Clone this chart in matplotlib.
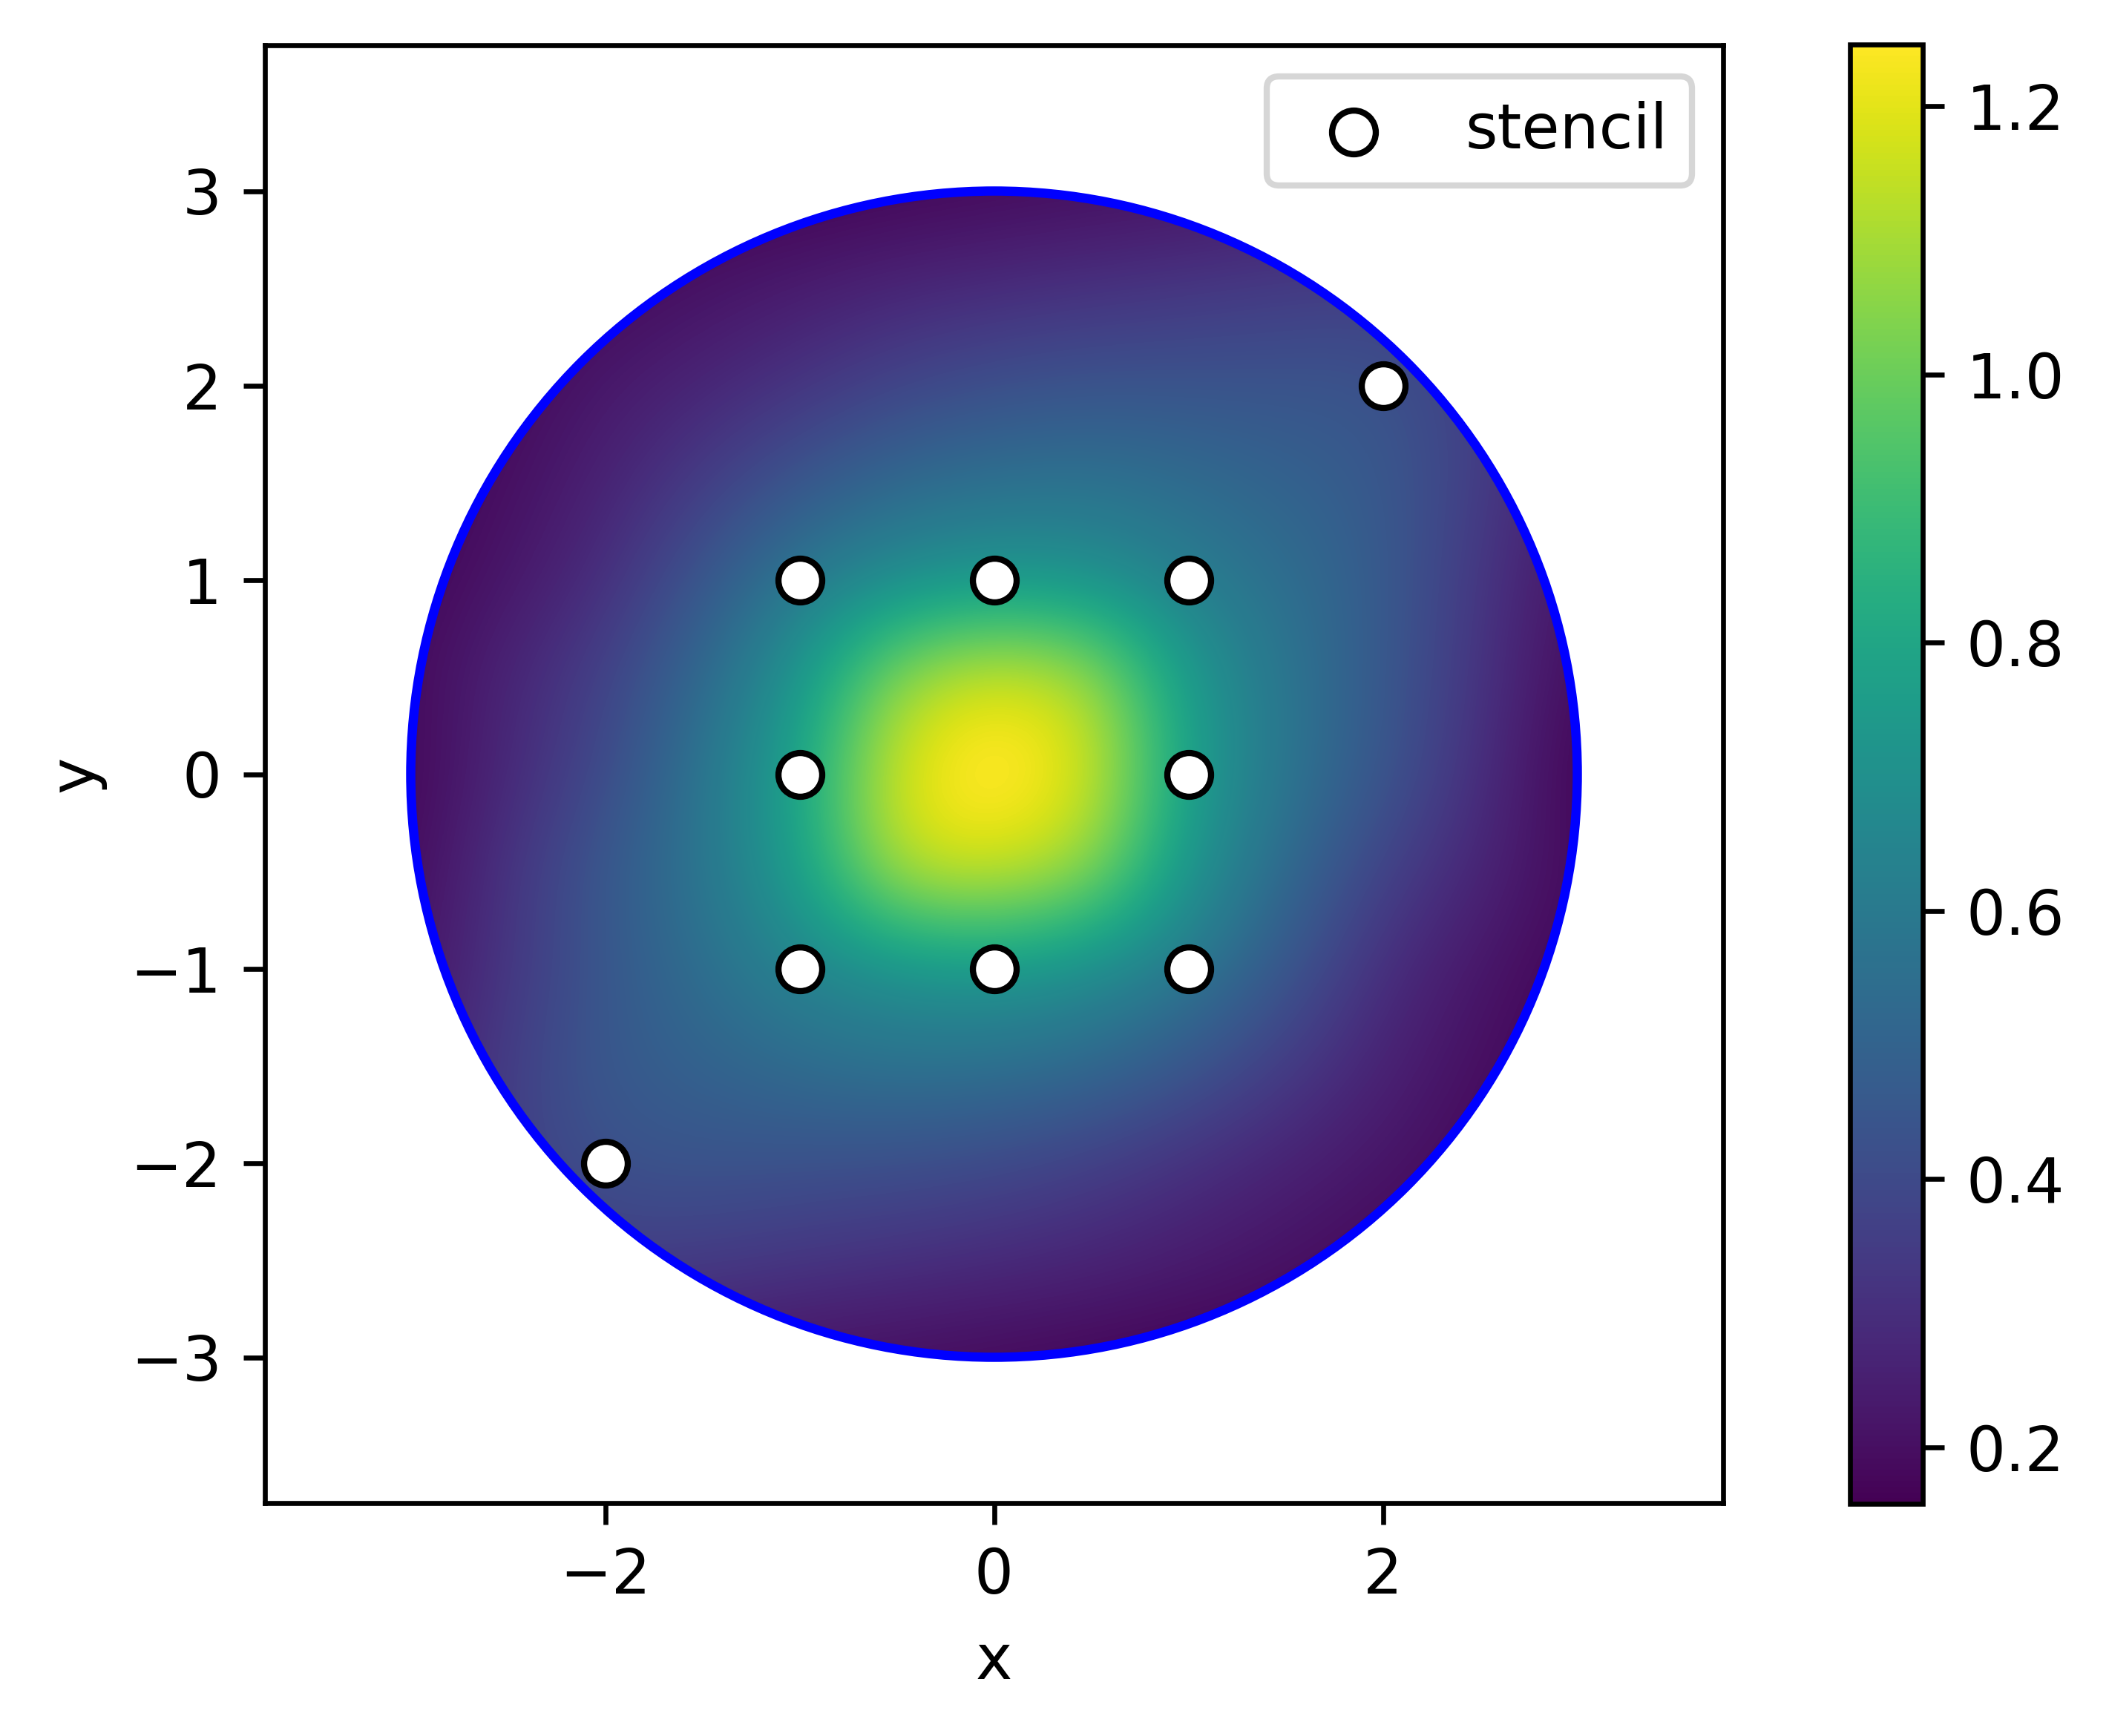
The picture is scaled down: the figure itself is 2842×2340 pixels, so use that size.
import matplotlib
matplotlib.use('Agg')
import matplotlib.pyplot as plt
import matplotlib.patches as patches
import numpy as np

plt.rcParams['font.size'] = 10

# field sampled on a 0.5 grid (rows run from y=3 down to y=-3)
grid_x = [-3.0, -2.5, -2.0, -1.5, -1.0, -0.5, 0.0, 0.5, 1.0, 1.5, 2.0, 2.5, 3.0]
grid_y = [3.0, 2.5, 2.0, 1.5, 1.0, 0.5, 0.0, -0.5, -1.0, -1.5, -2.0, -2.5, -3.0]
field_rows = [
    [0.15, 0.15, 0.15, 0.16, 0.16, 0.17, 0.18, 0.19, 0.20, 0.22, 0.24, 0.25, 0.24],
    [0.15, 0.16, 0.18, 0.21, 0.24, 0.27, 0.29, 0.31, 0.33, 0.35, 0.36, 0.33, 0.25],
    [0.15, 0.18, 0.23, 0.27, 0.32, 0.38, 0.42, 0.44, 0.44, 0.44, 0.44, 0.36, 0.25],
    [0.16, 0.20, 0.26, 0.35, 0.45, 0.53, 0.56, 0.57, 0.54, 0.50, 0.46, 0.36, 0.22],
    [0.17, 0.22, 0.30, 0.45, 0.60, 0.68, 0.72, 0.70, 0.62, 0.55, 0.47, 0.33, 0.20],
    [0.18, 0.27, 0.37, 0.53, 0.72, 1.08, 1.20, 1.12, 0.74, 0.58, 0.46, 0.32, 0.18],
    [0.17, 0.28, 0.40, 0.58, 0.78, 1.20, 1.30, 1.20, 0.76, 0.58, 0.45, 0.30, 0.16],
    [0.18, 0.32, 0.46, 0.58, 0.76, 1.15, 1.18, 1.08, 0.72, 0.53, 0.37, 0.27, 0.18],
    [0.20, 0.33, 0.45, 0.55, 0.65, 0.70, 0.73, 0.68, 0.60, 0.45, 0.30, 0.22, 0.17],
    [0.22, 0.36, 0.46, 0.50, 0.54, 0.57, 0.56, 0.53, 0.45, 0.35, 0.26, 0.20, 0.16],
    [0.25, 0.36, 0.43, 0.44, 0.43, 0.42, 0.40, 0.36, 0.31, 0.26, 0.22, 0.18, 0.15],
    [0.25, 0.33, 0.36, 0.35, 0.33, 0.31, 0.29, 0.27, 0.24, 0.21, 0.18, 0.16, 0.15],
    [0.24, 0.25, 0.24, 0.22, 0.20, 0.19, 0.18, 0.17, 0.16, 0.16, 0.15, 0.15, 0.15],
]

stencil_x = [-1, 0, 1, -1, 1, -1, 0, 1, 2, -2]
stencil_y = [1, 1, 1, 0, 0, -1, -1, -1, 2, -2]

radius = 3.0
vmin, vmax = 0.158, 1.246
xticks = [-2, 0, 2]
yticks = [-3, -2, -1, 0, 1, 2, 3]

W, H = 2842, 2340
fig = plt.figure(figsize=(W / 600, H / 600), dpi=600)
ax = fig.add_axes([357 / W, 1 - 2027 / H, (2322 - 357) / W, (2027 - 60) / H])
cax = fig.add_axes([2493 / W, 1 - 2027 / H, (2591 - 2493) / W, (2027 - 60) / H])

field = np.array(field_rows)
dx = grid_x[1] - grid_x[0]
extent = [grid_x[0] - dx / 2, grid_x[-1] + dx / 2, grid_y[-1] - dx / 2, grid_y[0] + dx / 2]
im = ax.imshow(field, extent=extent, origin='upper', cmap='viridis',
               interpolation='bicubic', interpolation_stage='data',
               vmin=vmin, vmax=vmax)
clip = patches.Circle((0, 0), radius, transform=ax.transData)
im.set_clip_path(clip)

ax.add_patch(patches.Circle((0, 0), radius, fill=False, edgecolor='blue', lw=1.5, zorder=2))
ax.scatter(stencil_x, stencil_y, s=50, c='white', edgecolors='black', linewidths=1,
           label='stencil', zorder=3)

ax.set_xlim(-1.25 * radius, 1.25 * radius)
ax.set_ylim(-1.25 * radius, 1.25 * radius)
ax.set_aspect('equal')
ax.set_xticks(xticks)
ax.set_yticks(yticks)
ax.set_xlabel('x')
ax.set_ylabel('y')
ax.legend(loc='upper right')

fig.colorbar(im, cax=cax)

fig.savefig('out.png', dpi=600)
